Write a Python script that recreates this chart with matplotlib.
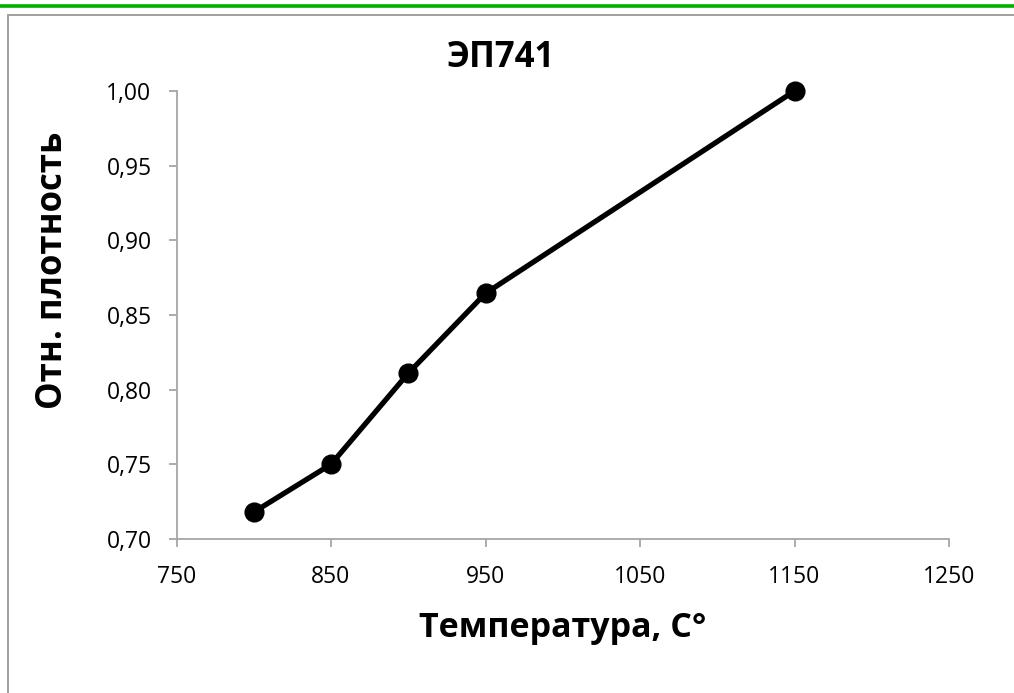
import matplotlib.pyplot as plt
from matplotlib.lines import Line2D
from matplotlib.patches import Rectangle
from matplotlib.ticker import FuncFormatter

temps = [800, 850, 900, 950, 1150]
density = [0.718, 0.750, 0.811, 0.8645, 1.000]

x_ticks = [750, 850, 950, 1050, 1150, 1250]
y_ticks = [0.70, 0.75, 0.80, 0.85, 0.90, 0.95, 1.00]

plt.rcParams['font.family'] = ['Open Sans', 'DejaVu Sans']

W, H = 1014, 693
fig = plt.figure(figsize=(W / 100, H / 100), dpi=100)

# green strip at the top and grey chart frame
fig.add_artist(Line2D([0, 1], [1 - 5.5 / H, 1 - 5.5 / H], color='#00b000', lw=2.6))
fig.add_artist(Rectangle((7.5 / W, -0.05), 1.1, 1 - 14.5 / H + 0.05,
                         transform=fig.transFigure, fill=False,
                         edgecolor='#a0a0a0', lw=1.4))

ax = fig.add_axes([176.5 / W, 1 - 539 / H, (949 - 176.5) / W, (539 - 91) / H])
ax.plot(temps, density, color='black', lw=3.8, marker='o', ms=13.5,
        solid_capstyle='round', clip_on=False, zorder=3)

ax.set_xlim(750, 1250)
ax.set_ylim(0.70, 1.00)
ax.set_xticks(x_ticks)
ax.set_yticks(y_ticks)
ax.yaxis.set_major_formatter(FuncFormatter(lambda v, p: f"{v:.2f}".replace('.', ',')))

for s in ['top', 'right']:
    ax.spines[s].set_visible(False)
for s in ['left', 'bottom']:
    ax.spines[s].set_color('#a6a6a6')
    ax.spines[s].set_linewidth(1.3)

ax.tick_params(axis='both', direction='out', length=6, width=1.3,
               color='#a6a6a6', labelsize=16.5, labelcolor='black')
ax.tick_params(axis='y', pad=12)
ax.tick_params(axis='x', pad=13)

fig.text(501 / W, 1 - 58 / H, 'ЭП741', ha='center', va='center',
         fontsize=25, fontweight='bold')
fig.text(562.7 / W, 1 - 628 / H, 'Температура, C°', ha='center', va='center',
         fontsize=24.5, fontweight='bold')
fig.text(53 / W, 1 - 270 / H, 'Отн. плотность', ha='center', va='center',
         rotation=90, fontsize=25, fontweight='bold')

fig.savefig('out.png', dpi=100)
